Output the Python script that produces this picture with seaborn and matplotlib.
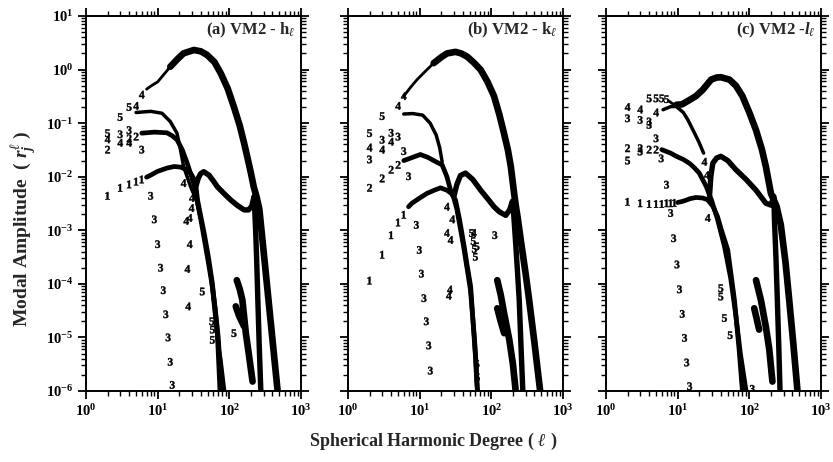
import numpy as np
import pandas as pd
import matplotlib
matplotlib.use("Agg")
import matplotlib.pyplot as plt
import matplotlib.ticker as mticker
import seaborn as sns

# ---------------- panel (a) VM2 - h ----------------
a_big_l = [7, 8, 10, 12, 15, 19, 23, 32, 40, 49, 62, 76, 95, 116, 140, 161, 180, 200, 220, 240, 262, 300, 352, 410, 472]
a_big_r = [0.43, 0.49, 0.59, 0.79, 1.13, 1.58, 2.01, 2.32, 2.19, 1.87, 1.38, 0.85, 0.44, 0.20, 0.089, 0.042, 0.022,
           0.0117, 0.0063, 0.0042, 0.0025, 4.2e-4, 5.0e-5, 6.5e-6, 1.0e-6]
a_hump_l = [34, 37, 40, 44, 52, 60, 68, 85, 104, 130, 161, 185, 205, 222, 226, 232, 240, 250, 262, 275]
a_hump_r = [6.5e-3, 9.5e-3, 1.15e-2, 1.24e-2, 1.07e-2, 8.3e-3, 6.5e-3, 4.8e-3, 3.7e-3, 2.9e-3, 2.4e-3, 2.4e-3,
            2.8e-3, 4.3e-3, 2.5e-3, 1.1e-3, 3.2e-4, 5.0e-5, 6.3e-6, 1.0e-6]
a_m1_l = [7, 8, 10, 13.5, 17, 21, 25, 29, 32, 34, 36, 40, 44.5, 51, 58, 63, 68, 71, 74]
a_m1_r = [9.8e-3, 1.07e-2, 1.26e-2, 1.45e-2, 1.55e-2, 1.51e-2, 1.35e-2, 1.15e-2, 9.1e-3, 7.1e-3, 3.7e-3, 1.8e-3,
          8.9e-4, 3.2e-4, 1.02e-4, 3.5e-5, 1.2e-5, 3.5e-6, 1.0e-6]
a_m2_l = [6, 9, 13.5, 16, 18.6, 22, 25.8, 30.3, 33.8, 36, 40, 44.5, 51, 58, 64, 70, 74, 77]
a_m2_r = [6.5e-2, 6.8e-2, 6.6e-2, 5.8e-2, 4.9e-2, 3.2e-2, 1.8e-2, 9.3e-3, 5.6e-3, 3.2e-3, 1.6e-3, 7.1e-4, 2.5e-4,
          8.9e-5, 3.2e-5, 1.0e-5, 3.2e-6, 1.0e-6]
a_m5_l = [5, 8, 11.5, 15, 18.6, 20.8, 23, 28.7, 35, 45, 52, 58, 68, 76, 86]
a_m5_r = [0.158, 0.166, 0.153, 0.107, 0.065, 0.032, 0.0155, 6.6e-3, 3.5e-3, 7.9e-4, 2.5e-4, 6.8e-5, 9.1e-6, 4.0e-6, 1.0e-6]
a_isl_l = [127, 140, 152, 170, 189, 211]
a_isl_r = [1.17e-4, 7.9e-5, 5.0e-5, 1.2e-5, 4.4e-6, 1.5e-6]
a_br_l = [123, 137, 161]
a_br_r = [3.8e-5, 2.5e-5, 1.6e-5]
a_dig_l = [2, 3, 4, 5, 6,
           2, 4, 5,
           3, 4, 6, 8, 9, 10, 11, 12, 13, 14, 15, 16,
           2, 3, 4, 5, 6, 23, 30, 29.7, 25, 28, 28, 26, 26.6,
           2, 3, 4, 42, 57, 58, 58, 116]
a_dig_r = [4.4e-3, 6.2e-3, 7.2e-3, 8.1e-3, 8.9e-3,
           3.2e-2, 5.2e-2, 5.6e-2,
           6.2e-2, 7.4e-2, 3.2e-2, 4.4e-3, 1.6e-3, 5.5e-4, 2.0e-4, 7.6e-5, 2.7e-5, 1.0e-5, 3.5e-6, 1.3e-6,
           5.0e-2, 4.3e-2, 4.3e-2, 0.21, 0.34, 7.6e-3, 4.0e-3, 2.6e-3, 1.5e-3, 1.7e-3, 5.5e-4, 1.9e-4, 3.8e-5,
           6.5e-2, 0.13, 0.20, 7.2e-5, 2.0e-5, 1.4e-5, 9.0e-6, 1.2e-5]
a_dig_j = ["1"] * 5 + ["2"] * 3 + ["3"] * 12 + ["4"] * 13 + ["5"] * 8

# ---------------- panel (b) VM2 - k ----------------
b_big_l = [6, 7.5, 9.2, 12, 15.7, 20, 24, 31.6, 38, 46, 57, 71, 88, 109, 130, 150, 170, 187, 208, 220, 232, 260,
           300, 337, 400, 480]
b_big_r = [0.32, 0.47, 0.65, 0.93, 1.32, 1.70, 2.0, 2.14, 2.0, 1.74, 1.35, 0.99, 0.60, 0.32, 0.141, 0.065, 0.032,
           0.0155, 4.9e-3, 2.8e-3, 1.8e-3, 6.0e-4, 1.6e-4, 5.0e-5, 7.9e-6, 1.0e-6]
b_hump_l = [30, 33, 37, 43.6, 55, 71, 90, 109, 130, 159, 180, 197, 205, 215, 230, 245, 260, 275]
b_hump_r = [4.3e-3, 7.1e-3, 1.05e-2, 1.17e-2, 8.9e-3, 5.6e-3, 3.8e-3, 2.75e-3, 2.2e-3, 1.9e-3, 2.4e-3, 3.5e-3,
            2.0e-3, 7.9e-4, 2.0e-4, 5.0e-5, 6.3e-6, 1.0e-6]
b_m1_l = [7, 7.8, 10, 12.7, 16, 19.5, 24, 28, 31.6, 36, 41, 46, 51.5, 57, 60, 62.5, 64]
b_m1_r = [2.75e-3, 3.2e-3, 4.0e-3, 4.9e-3, 5.6e-3, 6.2e-3, 5.6e-3, 4.8e-3, 3.7e-3, 1.6e-3, 5.8e-4, 2.2e-4, 8.9e-5,
          1.2e-5, 4.5e-6, 1.5e-6, 1.0e-6]
b_m2_l = [6, 8, 10.2, 13, 15.7, 20.6, 24, 27, 30, 33, 41, 51, 58, 62, 64]
b_m2_r = [2.0e-2, 2.3e-2, 2.6e-2, 2.3e-2, 2.0e-2, 1.66e-2, 1.0e-2, 5.6e-3, 4.0e-3, 2.5e-3, 5.0e-4, 7.9e-5, 1.0e-5,
          2.5e-6, 1.0e-6]
b_m5_l = [6, 8, 11, 14, 17, 19, 20.6]
b_m5_r = [0.148, 0.151, 0.141, 0.10, 0.060, 0.035, 0.019]
b_isl_l = [121, 135, 151, 178, 200, 218]
b_isl_r = [1.17e-4, 6.3e-5, 2.8e-5, 9.1e-6, 3.2e-6, 1.05e-6]
b_br_l = [121, 135, 151]
b_br_r = [3.5e-5, 2.0e-5, 1.2e-5]
b_dig_l = [2, 3, 4, 5, 6,
           2, 3, 4, 5,
           2, 3, 4, 5, 6, 7, 9, 9.9, 10.6, 11.5, 12.4, 13.4, 14.1, 112,
           2, 3, 4, 5, 6, 24, 28.5, 24, 27, 26.4, 25.5, 57,
           2, 3, 53, 56, 58, 60, 63, 63, 64]
b_dig_r = [1.15e-4, 3.5e-4, 8.1e-4, 1.4e-3, 1.95e-3,
           6.2e-3, 9.3e-3, 1.35e-2, 1.66e-2,
           2.1e-2, 4.9e-2, 6.6e-2, 5.6e-2, 3.0e-2, 1.02e-2, 1.26e-3, 4.3e-4, 1.55e-4, 5.4e-5, 2.0e-5, 7.1e-6,
           2.4e-6, 8.1e-4,
           3.5e-2, 3.2e-2, 4.5e-2, 0.21, 0.32, 2.75e-3, 1.6e-3, 8.9e-4, 6.6e-4, 7.8e-5, 6.0e-5, 8.9e-4,
           6.5e-2, 0.135, 8.9e-4, 6.3e-4, 4.5e-4, 3.2e-4, 5.0e-4, 3.2e-6, 1.8e-6]
b_dig_j = ["1"] * 5 + ["2"] * 4 + ["3"] * 14 + ["4"] * 12 + ["5"] * 9

# ---------------- panel (c) VM2 - l ----------------
c_big_l = [7.5, 8.5, 9.6, 11.5, 14.6, 18, 22.4, 29.3, 35, 40, 52.7, 65, 80, 100, 124, 150, 170, 200, 240, 275,
           320, 360, 410, 470]
c_big_r = [0.26, 0.23, 0.22, 0.224, 0.27, 0.32, 0.42, 0.65, 0.71, 0.72, 0.65, 0.50, 0.32, 0.158, 0.074, 0.032,
           0.0155, 4.9e-3, 2.8e-3, 1.26e-3, 2.5e-4, 5.0e-5, 7.9e-6, 1.0e-6]
c_hump_l = [27.8, 29, 30.9, 35, 40, 50, 65, 90, 124, 170, 200, 220, 224, 235, 246, 258, 268]
c_hump_r = [4.3e-3, 1.0e-2, 1.78e-2, 2.24e-2, 2.4e-2, 2.0e-2, 1.35e-2, 8.9e-3, 5.6e-3, 3.2e-3, 2.95e-3, 4.3e-3,
            1.6e-3, 3.2e-4, 5.0e-5, 6.3e-6, 1.0e-6]
c_m1_l = [10, 12, 15, 18, 22.4, 26.3, 31, 36, 40, 50, 62, 72, 80]
c_m1_r = [3.3e-3, 3.5e-3, 3.9e-3, 4.1e-3, 4.0e-3, 3.7e-3, 2.8e-3, 1.8e-3, 1.1e-3, 4.3e-4, 5.0e-5, 5.9e-6, 1.0e-6]
c_m2_l = [6, 8, 9.6, 12, 14.6, 17, 20, 25, 30, 36, 45, 55, 65, 75, 90]
c_m2_r = [3.2e-2, 2.75e-2, 2.4e-2, 2.1e-2, 1.78e-2, 1.48e-2, 1.17e-2, 6.6e-3, 3.5e-3, 1.6e-3, 5.0e-4, 1.26e-4,
          2.5e-5, 5.0e-6, 1.0e-6]
c_m4_l = [6.25, 8, 9.6, 12, 13.9, 17.2, 20, 23]
c_m4_r = [0.178, 0.204, 0.204, 0.158, 0.115, 0.065, 0.043, 0.0275]
c_isl_l = [124, 145, 170, 190, 210]
c_isl_r = [1.17e-4, 5.0e-5, 1.58e-5, 5.9e-6, 1.5e-6]
c_br_l = [117, 127, 137]
c_br_r = [3.5e-5, 2.2e-5, 1.4e-5]
c_dig_l = [2, 3, 4, 5, 6, 7, 8, 9,
           2, 3, 4, 5,
           2, 3, 4, 4, 5, 3, 5.9, 7, 8, 8.8, 9.8, 10.6, 11.6, 12.5, 13.4, 14.7, 110,
           2, 3, 5, 23.6, 25.5, 28, 26.3,
           4, 5, 6, 7, 2, 40, 40, 45, 54]
c_dig_r = [3.4e-3, 3.2e-3, 3.1e-3, 3.1e-3, 3.1e-3, 3.2e-3, 3.2e-3, 3.25e-3,
           3.4e-2, 3.4e-2, 3.2e-2, 3.2e-2,
           0.123, 0.115, 0.107, 0.093, 0.052, 2.95e-2, 2.2e-2, 7.1e-3, 2.1e-3, 7.1e-4, 2.3e-4, 7.9e-5, 2.75e-5,
           9.8e-6, 3.4e-6, 1.23e-6, 1.1e-6,
           0.20, 0.18, 0.158, 1.9e-2, 1.07e-2, 1.1e-2, 1.7e-3,
           0.29, 0.29, 0.29, 0.28, 2.0e-2, 8.3e-5, 5.8e-5, 2.3e-5, 1.1e-5]
c_dig_j = ["1"] * 8 + ["2"] * 4 + ["3"] * 17 + ["4"] * 7 + ["5"] * 9

titles = [r"(a) VM2 - h$_\ell$", r"(b) VM2 - k$_\ell$", r"(c) VM2 -$l_\ell$"]
x_ticks = [1, 10, 100, 1000]
y_ticks = [1e-6, 1e-5, 1e-4, 1e-3, 1e-2, 1e-1, 1, 10]

# ---------------- style ----------------
sns.set_style("ticks")
plt.rcParams.update({
    "font.family": ["Liberation Serif", "DejaVu Serif"],
    "font.weight": "bold",
    "mathtext.fontset": "custom",
    "mathtext.rm": "Liberation Serif:bold",
    "mathtext.bf": "Liberation Serif:bold",
    "mathtext.it": "Liberation Serif:italic:bold",
    "mathtext.fallback": "stix",
    "axes.linewidth": 1.4,
    "axes.edgecolor": "black",
    "xtick.color": "black",
    "ytick.color": "black",
})

fig = plt.figure(figsize=(8.33, 4.62), dpi=100)
W, H = 833.0, 462.0
lefts = [86, 348, 606]
axes = [fig.add_axes([x / W, 71 / H, 215 / W, 375 / H]) for x in lefts]

panels = [
    dict(big=(a_big_l, a_big_r), thick_from=15, hump=(a_hump_l, a_hump_r),
         steep=[(a_m1_l, a_m1_r), (a_m2_l, a_m2_r)], hatch=[(a_m5_l, a_m5_r)],
         isl=[(a_isl_l, a_isl_r), (a_br_l, a_br_r)], dig=(a_dig_l, a_dig_r, a_dig_j)),
    dict(big=(b_big_l, b_big_r), thick_from=15, hump=(b_hump_l, b_hump_r),
         steep=[(b_m1_l, b_m1_r), (b_m2_l, b_m2_r)], hatch=[(b_m5_l, b_m5_r)],
         isl=[(b_isl_l, b_isl_r), (b_br_l, b_br_r)], dig=(b_dig_l, b_dig_r, b_dig_j)),
    dict(big=(c_big_l, c_big_r), thick_from=9, hump=(c_hump_l, c_hump_r),
         steep=[(c_m1_l, c_m1_r), (c_m2_l, c_m2_r)], hatch=[(c_m4_l, c_m4_r)],
         isl=[(c_isl_l, c_isl_r), (c_br_l, c_br_r)], dig=(c_dig_l, c_dig_r, c_dig_j)),
]


def line(ax, l, r, lw):
    sns.lineplot(x=np.asarray(l, float), y=np.asarray(r, float), ax=ax, color="black", linewidth=lw,
                 sort=False, estimator=None, solid_capstyle="round", solid_joinstyle="round")


def exp_fmt(v, pos):
    e = int(round(np.log10(v)))
    return r"$10^{%d}$" % e


digit_markers = {k: "$%s$" % k for k in ["1", "2", "3", "4", "5"]}

for i, (ax, p) in enumerate(zip(axes, panels)):
    ax.set_xscale("log")
    ax.set_yscale("log")
    bl, br = p["big"]
    bl_arr, br_arr = np.asarray(bl, float), np.asarray(br, float)
    line(ax, bl_arr, br_arr, 2.0)
    mask = bl_arr >= p["thick_from"]
    line(ax, bl_arr[mask], br_arr[mask], 4.8)
    line(ax, *p["hump"], 3.9)
    for l, r in p["steep"]:
        line(ax, l, r, 3.4)
    for l, r in p["hatch"]:
        line(ax, l, r, 2.5)
    for l, r in p["isl"]:
        line(ax, l, r, 4.8)
    dl, dr, dj = p["dig"]
    df = pd.DataFrame({"l": dl, "r": dr, "j": dj})
    sns.scatterplot(data=df, x="l", y="r", style="j", style_order=list(digit_markers),
                    markers=digit_markers, color="black", s=30, linewidth=0.3, edgecolor="black",
                    legend=False, ax=ax)

    ax.set_xlim(1, 1000)
    ax.set_ylim(1e-6, 10)
    ax.set_xlabel("")
    ax.set_ylabel("")
    ax.xaxis.set_major_locator(mticker.FixedLocator(x_ticks))
    ax.yaxis.set_major_locator(mticker.FixedLocator(y_ticks))
    ax.xaxis.set_minor_locator(mticker.LogLocator(base=10, subs=np.arange(2, 10), numticks=20))
    ax.yaxis.set_minor_locator(mticker.LogLocator(base=10, subs=np.arange(2, 10), numticks=20))
    ax.xaxis.set_minor_formatter(mticker.NullFormatter())
    ax.yaxis.set_minor_formatter(mticker.NullFormatter())
    ax.xaxis.set_major_formatter(mticker.FuncFormatter(exp_fmt))
    ax.yaxis.set_major_formatter(mticker.FuncFormatter(exp_fmt))
    ax.tick_params(which="both", direction="out", top=True, right=True, bottom=True, left=True)
    ax.tick_params(which="major", length=6, width=1.3, labelsize=10.5, pad=3)
    ax.tick_params(which="minor", length=3.5, width=1.0)
    ax.tick_params(labelleft=(i == 0))
    for s in ax.spines.values():
        s.set_visible(True)
        s.set_linewidth(1.4)
    ax.text(0.975, 0.962, titles[i], transform=ax.transAxes, ha="right", va="center",
            fontsize=12, fontweight="bold")

fig.text(0.028, 0.505, r"Modal Amplitude  ( $r_j^{\ell}$ )", rotation=90, ha="center", va="center",
         fontsize=14, fontweight="bold")
fig.text(0.52, 0.045, r"Spherical Harmonic Degree ( $\ell$ )", ha="center", va="center",
         fontsize=13, fontweight="bold")

fig.savefig("out.png", dpi=100)
